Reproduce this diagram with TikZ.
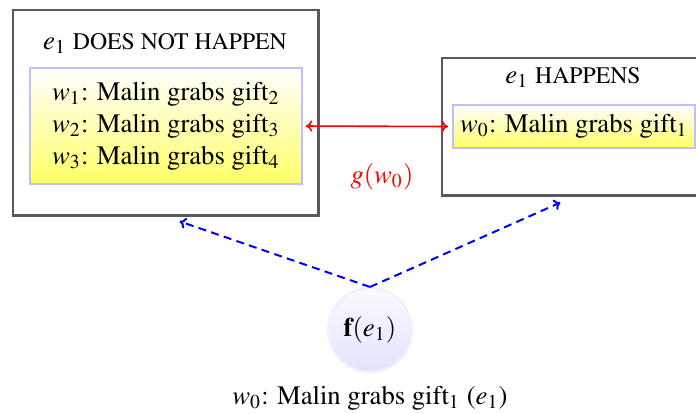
\documentclass[tikz,border=0pt]{standalone}
\usepackage[T1]{fontenc}
\usepackage{mathptmx}
\usepackage{xcolor}
\usepackage{tikz}
\usetikzlibrary{shapes.geometric, arrows.meta, positioning}
\newcommand{\capstext}[1]{{\fontsize{8.9}{10}\selectfont #1}}
\tikzset{
  font=\fontsize{10}{12}\selectfont,               % body text
  worldbox/.style   = {rectangle, draw=black!65, line width=1.1pt, fill=white},
  worldlist/.style  = {rectangle, draw=blue!25, line width=0.75pt,
                       top color=white, bottom color=yellow!60,
                       align=center, inner sep=0pt},
  selector/.style   = {circle, draw=blue!6, line width=0.8pt,
                       top color=blue!2, bottom color=blue!11,
                       minimum size=31.5pt, inner sep=0pt},
  swaparrow/.style  = {<->, >={To[length=2.4pt,width=4.2pt]}, red, line width=0.6pt,
                       shorten >=1.5pt, shorten <=1.1pt},
  pickarrow/.style  = {->, >={To[length=2.4pt,width=4.2pt]}, blue, line width=0.75pt,
                       dash pattern=on 3pt off 2pt, shorten >=5.6pt}
}

\begin{document}
\begin{tikzpicture}[x=0.375pt, y=-0.375pt]
  \useasboundingbox (0,0) rectangle (696,413);
  \clip (0,0) rectangle (696,413);
  % the two outer boxes
  \node[worldbox, minimum width=114.4pt, minimum height=76.9pt] (notbox) at (165.5,112.5) {};
  \node[worldbox, minimum width=99pt, minimum height=51.4pt] (hapbox) at (574,126.5) {};
  \node (nothead) at (165,43) {$e_1$ \capstext{DOES NOT HAPPEN}};
  \node (haphead) at (573,77) {$e_1$ \capstext{HAPPENS}};
  % worlds inside
  \node[worldlist, minimum width=102pt, minimum height=43.5pt] (notlist) at (166,126)
    {$w_1$: Malin grabs gift$_2$\\ $w_2$: Malin grabs gift$_3$\\ $w_3$: Malin grabs gift$_4$};
  \node[worldlist, minimum width=90.75pt, minimum height=16.1pt] (haplist) at (574,126.5)
    {$w_0$: Malin grabs gift$_1$};
  \draw[swaparrow] (notlist.east) -- (haplist.west);
  \node[red] (glabel) at (382,177) {$g(w_0)$};
  % selection function
  \node[selector] (fnode) at (370,330) {$\mathbf{f}(e_1)$};
  \draw[pickarrow] (fnode.north) -- (notbox.south);
  \draw[pickarrow] (fnode.north) -- (hapbox.south);
  \node (fcaption) at (370,398) {$w_0$: Malin grabs gift$_1$ ($e_1$)};
\end{tikzpicture}
\end{document}
